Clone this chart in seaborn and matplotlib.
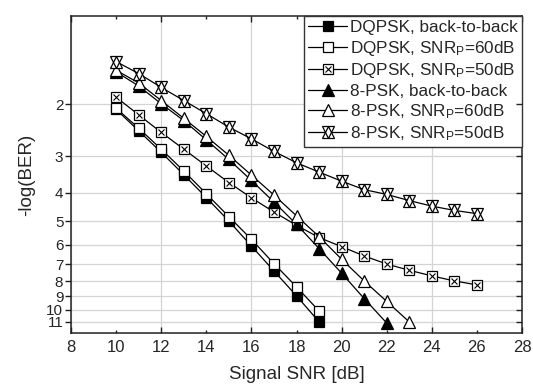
import numpy as np
import pandas as pd
import matplotlib
matplotlib.use("Agg")
import matplotlib.pyplot as plt
from matplotlib.lines import Line2D
from matplotlib.ticker import MultipleLocator, FixedLocator, NullLocator, FuncFormatter
import seaborn as sns

# signal SNR [dB]
snr_dq = list(range(10, 20))        # 10..19
snr_dq50 = list(range(10, 27))      # 10..26
snr_8 = list(range(10, 23))         # 10..22
snr_860 = list(range(10, 24))       # 10..23
snr_850 = list(range(10, 27))       # 10..26

# -log(BER) values
dq_b2b = [2.08, 2.46, 2.91, 3.47, 4.15, 4.99, 6.07, 7.38, 8.97, 11.0]
dq_60 = [2.06, 2.41, 2.84, 3.37, 4.03, 4.82, 5.76, 6.97, 8.36, 10.1]
dq_50 = [1.89, 2.17, 2.49, 2.84, 3.24, 3.69, 4.16, 4.65, 5.16, 5.68,
         6.10, 6.56, 6.99, 7.34, 7.67, 7.98, 8.23]
psk_b2b = [1.55, 1.73, 1.99, 2.27, 2.64, 3.08, 3.63, 4.30, 5.12, 6.19,
           7.51, 9.16, 11.1]
psk_60 = [1.53, 1.69, 1.94, 2.23, 2.57, 2.98, 3.48, 4.07, 4.79, 5.64,
          6.73, 7.98, 9.37, 11.0]
psk_50 = [1.43, 1.57, 1.75, 1.94, 2.15, 2.39, 2.62, 2.89, 3.16, 3.40,
          3.65, 3.90, 4.05, 4.25, 4.44, 4.59, 4.71]

labels = ["DQPSK, back-to-back",
          r"DQPSK, SNR$_\mathrm{P}$=60dB",
          r"DQPSK, SNR$_\mathrm{P}$=50dB",
          "8-PSK, back-to-back",
          r"8-PSK, SNR$_\mathrm{P}$=60dB",
          r"8-PSK, SNR$_\mathrm{P}$=50dB"]
y_ticks = [2, 3, 4, 5, 6, 7, 8, 9, 10, 11]

sns.set_style("white")
plt.rcParams['font.family'] = ['Liberation Sans', 'DejaVu Sans']
plt.rcParams['mathtext.fontset'] = 'custom'
plt.rcParams['mathtext.rm'] = 'Liberation Sans'
plt.rcParams['mathtext.it'] = 'Liberation Sans:italic'

fig = plt.figure(figsize=(5.33, 3.88), dpi=100)
ax = fig.add_axes([0.1332, 0.1418, 0.8462, 0.817])

lw = 0.9
ms = 6.8
mt = 8.0
base = dict(color='black', linewidth=lw, markeredgecolor='black',
            markeredgewidth=0.9, markersize=ms, ax=ax, legend=False)

# filled ones first so the open markers sit on top
sns.lineplot(x=snr_dq, y=dq_b2b, marker='s', markerfacecolor='black', **base)
sns.lineplot(x=snr_dq, y=dq_60, marker='s', markerfacecolor='white', **base)
sns.lineplot(x=snr_dq50, y=dq_50, marker='s', markerfacecolor='white', **base)
sns.lineplot(x=snr_dq50, y=dq_50, marker='x', linestyle='', markersize=4.8,
             color='black', markeredgecolor='black', markeredgewidth=0.8,
             ax=ax, legend=False)
sns.lineplot(x=snr_8, y=psk_b2b, marker='^', markerfacecolor='black', **dict(base, markersize=mt))
sns.lineplot(x=snr_860, y=psk_60, marker='^', markerfacecolor='white', **dict(base, markersize=mt))
sns.lineplot(x=snr_850, y=psk_50, marker='^', markerfacecolor='white', **dict(base, markersize=mt))
sns.lineplot(x=snr_850, y=psk_50, marker='v', linestyle='', markersize=mt,
             color='black', markeredgecolor='black', markerfacecolor='none',
             markeredgewidth=0.9, ax=ax, legend=False)

# axes
ax.set_xlim(8, 28)
ax.xaxis.set_major_locator(MultipleLocator(4))
ax.xaxis.set_minor_locator(MultipleLocator(2))
ax.xaxis.set_minor_formatter(FuncFormatter(lambda v, p: f"{v:g}" if v % 4 else ""))

ax.set_yscale('log')
ax.set_ylim(12, 1)
ax.yaxis.set_major_locator(FixedLocator(y_ticks))
ax.yaxis.set_major_formatter(FuncFormatter(lambda v, p: f"{v:g}"))
ax.yaxis.set_minor_locator(NullLocator())

ax.grid(True, which='major', color='#d4d4d4', linewidth=0.9)
ax.set_axisbelow(True)

for s in ax.spines.values():
    s.set_color('#222222')
    s.set_linewidth(1.1)

ax.tick_params(axis='x', which='both', direction='in', top=True, bottom=True,
               labelsize=12, pad=5, color='#222222')
ax.tick_params(axis='x', which='major', length=4.5, width=1)
ax.tick_params(axis='x', which='minor', length=2.5, width=1)
ax.tick_params(axis='y', which='major', left=True, right=False, direction='out',
               length=4, width=1, labelsize=11, pad=1.5, color='#222222')

# right side ticks point inward
ax_r = ax.twinx()
ax_r.set_yscale('log')
ax_r.set_ylim(12, 1)
ax_r.yaxis.set_major_locator(FixedLocator(y_ticks))
ax_r.yaxis.set_minor_locator(NullLocator())
ax_r.tick_params(axis='y', which='major', direction='in', length=4, width=1,
                 labelright=False, color='#222222')
ax_r.grid(False)
for s in ax_r.spines.values():
    s.set_visible(False)

ax.set_xlabel("Signal SNR [dB]", fontsize=13.5, labelpad=8)
ax.set_ylabel("-log(BER)", fontsize=13.5, labelpad=8)

# legend
def h(mk, fc, ms_=ms):
    return Line2D([], [], color='black', linewidth=lw, marker=mk,
                  markerfacecolor=fc, markeredgecolor='black',
                  markeredgewidth=0.9, markersize=ms_)

handles = [h('s', 'black'),
           h('s', 'white'),
           (h('s', 'white'), Line2D([], [], linestyle='', marker='x', color='black',
                                    markersize=4.8, markeredgewidth=0.8)),
           h('^', 'black', mt),
           h('^', 'white', mt),
           (h('^', 'white', mt), Line2D([], [], linestyle='', marker='v', color='black',
                                        markerfacecolor='none', markersize=mt,
                                        markeredgewidth=0.9))]
leg = ax.legend(handles, labels, loc='upper right', borderaxespad=0,
                fontsize=12.3, frameon=True, fancybox=False, framealpha=1,
                edgecolor='#333333', handlelength=2.3, handletextpad=0.15,
                labelspacing=0.2, borderpad=0.25)
leg.get_frame().set_linewidth(1.0)

fig.savefig("out.png", dpi=100)
